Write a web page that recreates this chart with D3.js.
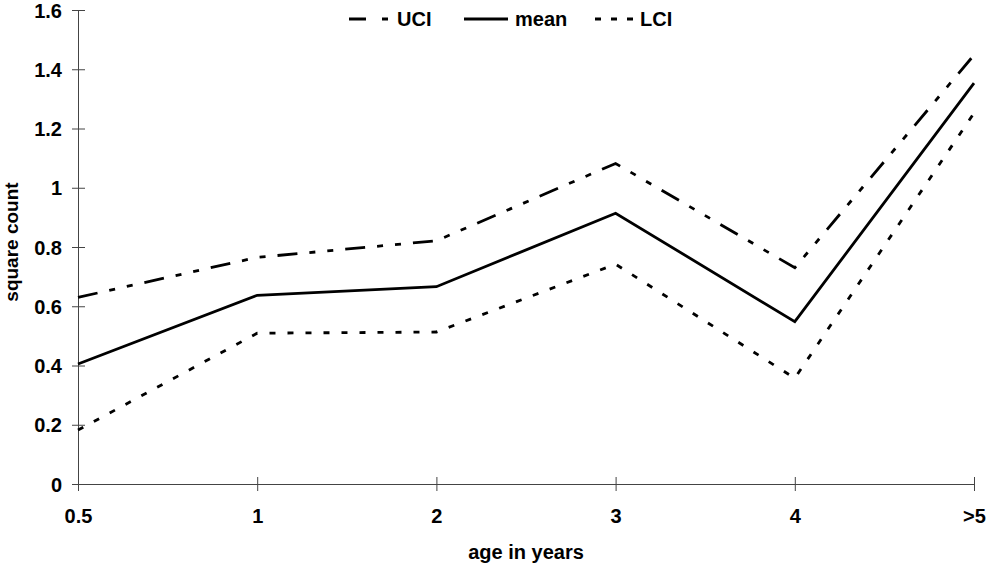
<!DOCTYPE html>
<html>
<head>
<meta charset="utf-8">
<script src="https://cdn.jsdelivr.net/npm/d3@7"></script>
<style>
  body { margin: 0; background: #fff; }
  svg text { font-family: "Liberation Sans", Arial, sans-serif; font-weight: bold; fill: #000; }
</style>
</head>
<body>
<div id="chart"></div>
<script>
// chart values
const categories = ['0.5', '1', '2', '3', '4', '>5'];
const uci  = [0.630, 0.765, 0.821, 1.082, 0.730, 1.448];
const mean = [0.405, 0.637, 0.666, 0.914, 0.548, 1.353];
const lci  = [0.182, 0.509, 0.513, 0.742, 0.357, 1.252];
const yTicks = [0, 0.2, 0.4, 0.6, 0.8, 1, 1.2, 1.4, 1.6];
const yTickLabels = ['0', '0.2', '0.4', '0.6', '0.8', '1', '1.2', '1.4', '1.6'];
const seriesNames = ['UCI', 'mean', 'LCI'];

const width = 989, height = 565;
const margin = {top: 10, right: 15, bottom: 81, left: 78};
const fontSize = '20px';

const svg = d3.select('#chart').append('svg')
    .attr('width', width)
    .attr('height', height);

const x = d3.scalePoint()
    .domain(categories)
    .range([margin.left, width - margin.right]);

const y = d3.scaleLinear()
    .domain([0, 1.6])
    .range([height - margin.bottom, margin.top]);

// line styles per series
const styles = {
  UCI:  {dash: '20,12,6,12,6,12', legendDash: '17,16,6,40'},
  mean: {dash: null, legendDash: null},
  LCI:  {dash: '6,12', legendDash: '6,10'}
};

// y axis, ticks cross the line
const yAxis = svg.append('g')
    .attr('transform', `translate(${margin.left},0)`)
    .call(d3.axisLeft(y).tickValues(yTicks).tickSize(6)
      .tickFormat((d, i) => yTickLabels[i]));
yAxis.select('.domain').attr('stroke', '#444');
yAxis.selectAll('.tick line').attr('x1', -6).attr('x2', 7).attr('stroke', '#444');
yAxis.selectAll('.tick text')
    .attr('x', -16)
    .attr('dy', '0.36em')
    .style('font-size', fontSize);

// x axis
const xAxis = svg.append('g')
    .attr('transform', `translate(0,${y(0)})`)
    .call(d3.axisBottom(x).tickSize(7).tickSizeOuter(0));
xAxis.select('.domain').attr('stroke', '#444');
xAxis.selectAll('.tick line').attr('y1', -7).attr('y2', 7).attr('stroke', '#444');
xAxis.selectAll('.tick text')
    .attr('y', 39)
    .attr('dy', 0)
    .style('font-size', fontSize);

// axis titles
svg.append('text')
    .attr('x', 526)
    .attr('y', 559)
    .attr('text-anchor', 'middle')
    .style('font-size', fontSize)
    .text('age in years');

svg.append('text')
    .attr('transform', `translate(18,242) rotate(-90)`)
    .attr('text-anchor', 'middle')
    .style('font-size', '19px')
    .text('square count');

// series lines
const line = d3.line()
    .x((d, i) => x(categories[i]))
    .y(d => y(d));

const seriesData = [uci, mean, lci];

svg.selectAll('.series')
    .data(seriesData)
  .join('path')
    .attr('class', 'series')
    .attr('d', line)
    .attr('fill', 'none')
    .attr('stroke', '#000')
    .attr('stroke-width', 2.8)
    .attr('stroke-linejoin', 'miter')
    .attr('stroke-dasharray', (d, i) => styles[seriesNames[i]].dash);

// legend at top
const legendItems = [
  {name: 'UCI',  x1: 349, x2: 389, tx: 397},
  {name: 'mean', x1: 464, x2: 508, tx: 515},
  {name: 'LCI',  x1: 595, x2: 633, tx: 640}
];
const legendY = 19;

const legend = svg.append('g').attr('class', 'legend');

legend.selectAll('line')
    .data(legendItems)
  .join('line')
    .attr('x1', d => d.x1)
    .attr('x2', d => d.x2)
    .attr('y1', legendY)
    .attr('y2', legendY)
    .attr('stroke', '#000')
    .attr('stroke-width', 3)
    .attr('stroke-dasharray', d => styles[d.name].legendDash);

legend.selectAll('text')
    .data(legendItems)
  .join('text')
    .attr('x', d => d.tx)
    .attr('y', legendY)
    .attr('dy', '0.36em')
    .style('font-size', fontSize)
    .text(d => d.name);
</script>
</body>
</html>
